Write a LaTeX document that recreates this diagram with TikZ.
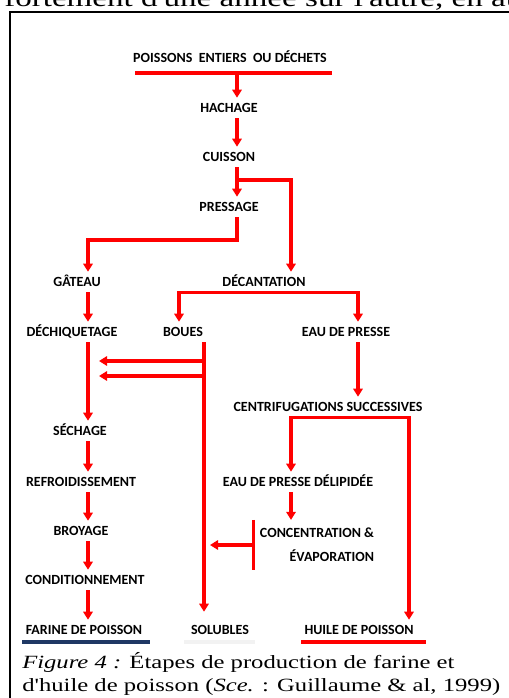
\documentclass[tikz,border=0pt]{standalone}
\usepackage{fontspec}
\newfontfamily\lblfont{Carlito}
\newfontfamily\capfont{Liberation Serif}[FakeStretch=1.32]
\usetikzlibrary{arrows.meta}
\definecolor{navy}{RGB}{31,56,100}
\definecolor{faint}{RGB}{242,242,242}
\begin{document}
\begin{tikzpicture}[x=0.75pt, y=-0.75pt, >={Triangle[length=6pt,width=7pt]},
  every node/.style={font=\lblfont\bfseries\fontsize{10.5pt}{18pt}\selectfont, text height=7pt, text depth=0pt, inner xsep=2pt, inner ysep=4pt},
  flow/.style={red, line width=2.3pt},
  underline/.style={line width=3pt}]
\useasboundingbox (0,0) rectangle (508,698);
\draw[line width=1.5pt] (10,702) -- (10,12) -- (512,12);
\node[anchor=base west, font=\capfont\fontsize{18.8pt}{20pt}\selectfont, text height=, text depth=, inner sep=0pt] (lead) at (4,7) {fortement d'une année sur l'autre, en au};

\node (src) at (230,58) {POISSONS\ \ ENTIERS\ \ OU DÉCHETS};
\node (hach) at (229,108) {HACHAGE};
\node (cuis) at (229,157) {CUISSON};
\node (press) at (229,207) {PRESSAGE};
\node (gat) at (77,282) {GÂTEAU};
\node (dec) at (264,282) {DÉCANTATION};
\node (dech) at (72,332) {DÉCHIQUETAGE};
\node (boues) at (183,332) {BOUES};
\node (eau) at (346,332) {EAU DE PRESSE};
\node (cent) at (328,407) {CENTRIFUGATIONS SUCCESSIVES};
\node (sech) at (80,431) {SÉCHAGE};
\node (refr) at (81,482) {REFROIDISSEMENT};
\node (delip) at (298,482) {EAU DE PRESSE DÉLIPIDÉE};
\node (broy) at (81,531) {BROYAGE};
\node[align=right, text height=, inner xsep=4.5pt, inner ysep=6pt] (conc) at (317,545) {CONCENTRATION \&\\ÉVAPORATION};
\node (cond) at (85,580) {CONDITIONNEMENT};
\node (far) at (84,630) {FARINE DE POISSON};
\node (sol) at (220,630) {SOLUBLES};
\node (huile) at (359,630) {HUILE DE POISSON};

\coordinate (xleft) at (88,0);
\coordinate (xmid) at (237,0);
\coordinate (xdec) at (291,0);
\coordinate (xboues) at (179,0);
\coordinate (xeau) at (358,0);
\coordinate (xsol) at (204,0);
\coordinate (xhuile) at (409,0);
\coordinate (xback) at (99,0);
\coordinate (xin) at (210,0);
\coordinate (drop) at (237,73);
\coordinate (forkA) at (237,180);
\coordinate (forkB) at (237,240);
\coordinate (backA) at (204,361);
\coordinate (backB) at (204,376);

\draw[underline, red] (135,73) -- (332,73);
\draw[flow, ->] (drop) -- (hach.north -| xmid);
\draw[flow, ->] (hach.south -| xmid) -- (cuis.north -| xmid);
\draw[flow, ->] (cuis.south -| xmid) -- (press.north -| xmid);
\draw[flow, ->] (forkA) -| (dec.north -| xdec);
\draw[flow, ->] (press.south -| xmid) -- (forkB) -| (gat.north -| xleft);
\draw[flow, <->] (boues.north -| xboues) |- (dec.south) -| (eau.north -| xeau);
\draw[flow, ->] (gat.south -| xleft) -- (dech.north -| xleft);
\draw[flow, ->] (dech.south -| xleft) -- (sech.north -| xleft);
\draw[flow, ->] (sech.south -| xleft) -- (refr.north -| xleft);
\draw[flow, ->] (refr.south -| xleft) -- (broy.north -| xleft);
\draw[flow, ->] (broy.south -| xleft) -- (cond.north -| xleft);
\draw[flow, ->] (cond.south -| xleft) -- (far.north -| xleft);
\draw[flow, ->, shorten >=6pt] (boues.south -| xsol) -- (sol.north -| xsol);
\draw[flow, ->] (backA) -- (backA -| xback);
\draw[flow, ->] (backB) -- (backB -| xback);
\draw[flow, ->] (eau.south -| xeau) -- (cent.north -| xeau);
\draw[flow, <->] (delip.north -| xdec) |- (cent.south) -| (huile.north -| xhuile);
\draw[flow, ->] (delip.south -| xdec) -- (conc.north -| xdec);
\draw[flow] (conc.north west) -- (conc.south west);
\draw[flow, ->] (conc.west) -- (conc.west -| xin);
\draw[underline, navy] (22,642) -- (150,642);
\draw[underline, faint] (184,642) -- (255,642);
\draw[underline, red] (301,642) -- (426,642);

\node[anchor=north west, align=left, font=\capfont\fontsize{14pt}{17.25pt}\selectfont, text height=, text depth=, inner sep=0pt] (cap) at (22,652) {\textit{Figure 4 :} Étapes de production de farine et\\d'huile de poisson (\textit{Sce.} : Guillaume \& al, 1999)};
\end{tikzpicture}
\end{document}
